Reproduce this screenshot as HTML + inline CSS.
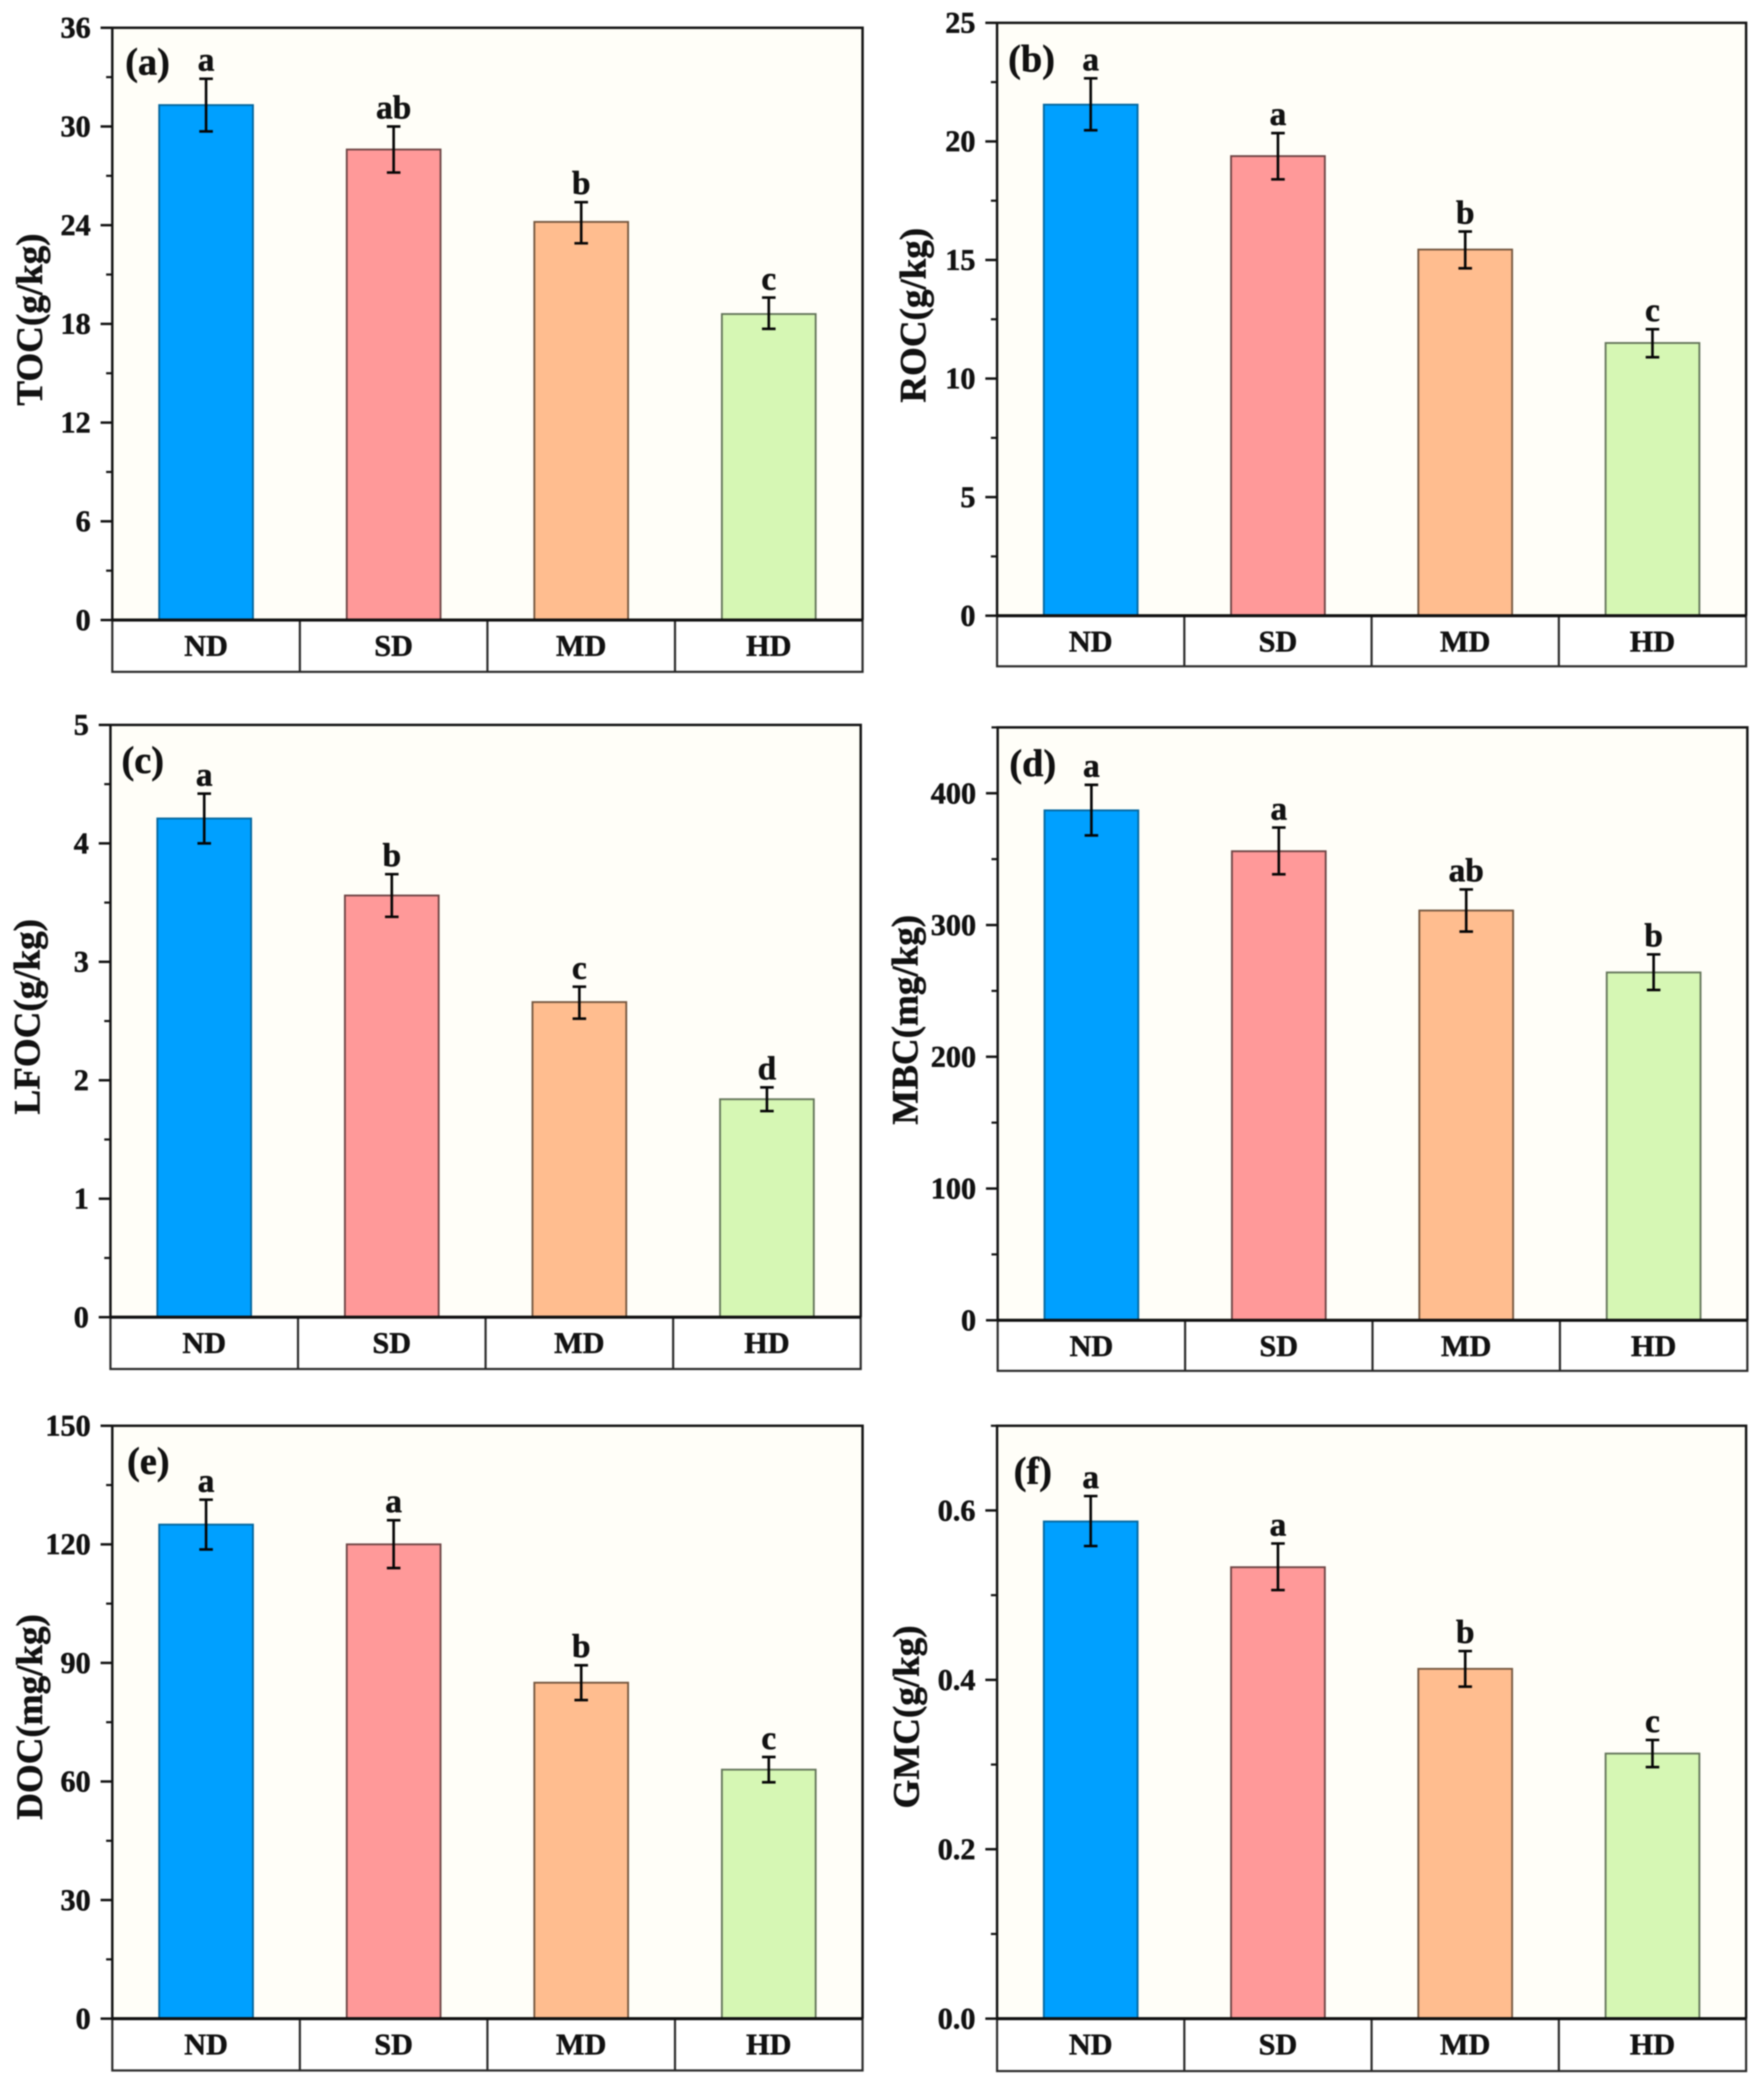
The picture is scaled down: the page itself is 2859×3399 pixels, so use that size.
<!DOCTYPE html>
<html lang="en">
<head>
<meta charset="utf-8">
<title>Soil carbon fractions by degradation level</title>
<style>
html,body{margin:0;padding:0;background:#fff;width:2859px;height:3399px;overflow:hidden}
svg{display:block;filter:blur(1px)}
text{font-family:"Liberation Serif",serif;font-weight:700;fill:#111;stroke:#111;stroke-width:0.8px}
</style>
</head>
<body>
<svg id="figure" xmlns="http://www.w3.org/2000/svg" width="2859" height="3399" viewBox="0 0 2859 3399"></svg>
<script>
// Shared category data
const categories = ['ND', 'SD', 'MD', 'HD'];

// (a) TOC
const tocMeans = [31.3, 28.6, 24.2, 18.6];
const tocUpper = [32.9, 30.0, 25.4, 19.6];
const tocLower = [29.7, 27.2, 22.9, 17.7];
const tocLetters = ['a', 'ab', 'b', 'c'];
const tocTicks = [0, 6, 12, 18, 24, 30, 36];
const tocTickLabels = ['0', '6', '12', '18', '24', '30', '36'];
const tocMinorTicks = [3, 9, 15, 21, 27, 33];

// (b) ROC
const rocMeans = [21.55, 19.38, 15.44, 11.5];
const rocUpper = [22.66, 20.35, 16.2, 12.08];
const rocLower = [20.47, 18.4, 14.65, 10.9];
const rocLetters = ['a', 'a', 'b', 'c'];
const rocTicks = [0, 5, 10, 15, 20, 25];
const rocTickLabels = ['0', '5', '10', '15', '20', '25'];
const rocMinorTicks = [2.5, 7.5, 12.5, 17.5, 22.5];

// (c) LFOC
const lfocMeans = [4.21, 3.56, 2.66, 1.84];
const lfocUpper = [4.42, 3.74, 2.79, 1.94];
const lfocLower = [4.0, 3.38, 2.52, 1.74];
const lfocLetters = ['a', 'b', 'c', 'd'];
const lfocTicks = [0, 1, 2, 3, 4, 5];
const lfocTickLabels = ['0', '1', '2', '3', '4', '5'];
const lfocMinorTicks = [0.5, 1.5, 2.5, 3.5, 4.5];

// (d) MBC
const mbcMeans = [387, 356, 311, 264];
const mbcUpper = [406.4, 374, 327, 277.7];
const mbcLower = [368, 338.5, 295, 250.7];
const mbcLetters = ['a', 'a', 'ab', 'b'];
const mbcTicks = [0, 100, 200, 300, 400];
const mbcTickLabels = ['0', '100', '200', '300', '400'];
const mbcMinorTicks = [50, 150, 250, 350, 450];

// (e) DOC
const docMeans = [125, 120, 85, 63];
const docUpper = [131.3, 126.1, 89.4, 66.2];
const docLower = [118.7, 114, 80.6, 59.8];
const docLetters = ['a', 'a', 'b', 'c'];
const docTicks = [0, 30, 60, 90, 120, 150];
const docTickLabels = ['0', '30', '60', '90', '120', '150'];
const docMinorTicks = [15, 45, 75, 105, 135];

// (f) GMC
const gmcMeans = [0.587, 0.533, 0.413, 0.313];
const gmcUpper = [0.617, 0.561, 0.434, 0.329];
const gmcLower = [0.558, 0.506, 0.392, 0.297];
const gmcLetters = ['a', 'a', 'b', 'c'];
const gmcTicks = [0, 0.2, 0.4, 0.6];
const gmcTickLabels = ['0.0', '0.2', '0.4', '0.6'];
const gmcMinorTicks = [0.1, 0.3, 0.5, 0.7];

// Fill and outline per category
const barFills = ['#00a0ff', '#ff9999', '#ffbd8f', '#d6f7b4'];
const barStrokes = ['#04679f', '#6e4545', '#75573f', '#64755a'];

const panels = [
  {id:'a', title:'TOC(g/kg)', yMax:36, means:tocMeans, upper:tocUpper, lower:tocLower, letters:tocLetters, ticks:tocTicks, labels:tocTickLabels, minor:tocMinorTicks,
   left:182, right:1398, top:45, zero:1005, bottom:1089, titleX:68, titleY:518, tagX:203, tagY:105},
  {id:'b', title:'ROC(g/kg)', yMax:25, means:rocMeans, upper:rocUpper, lower:rocLower, letters:rocLetters, ticks:rocTicks, labels:rocTickLabels, minor:rocMinorTicks,
   left:1616, right:2830, top:37, zero:998, bottom:1080, titleX:1500, titleY:511, tagX:1634, tagY:100},
  {id:'c', title:'LFOC(g/kg)', yMax:5, means:lfocMeans, upper:lfocUpper, lower:lfocLower, letters:lfocLetters, ticks:lfocTicks, labels:lfocTickLabels, minor:lfocMinorTicks,
   left:179, right:1395, top:1175, zero:2135, bottom:2219, titleX:64, titleY:1648, tagX:197, tagY:1237},
  {id:'d', title:'MBC(mg/kg)', yMax:450, means:mbcMeans, upper:mbcUpper, lower:mbcLower, letters:mbcLetters, ticks:mbcTicks, labels:mbcTickLabels, minor:mbcMinorTicks,
   left:1617, right:2832, top:1179, zero:2140, bottom:2222, titleX:1487, titleY:1653, tagX:1636, tagY:1242},
  {id:'e', title:'DOC(mg/kg)', yMax:150, means:docMeans, upper:docUpper, lower:docLower, letters:docLetters, ticks:docTicks, labels:docTickLabels, minor:docMinorTicks,
   left:182, right:1398, top:2311, zero:3272, bottom:3356, titleX:68, titleY:2783, tagX:206, tagY:2373},
  {id:'f', title:'GMC(g/kg)', yMax:0.7, means:gmcMeans, upper:gmcUpper, lower:gmcLower, letters:gmcLetters, ticks:gmcTicks, labels:gmcTickLabels, minor:gmcMinorTicks,
   left:1616, right:2830, top:2311, zero:3272, bottom:3357, titleX:1489, titleY:2783, tagX:1643, tagY:2389}
];

const NS = 'http://www.w3.org/2000/svg';
const root = document.getElementById('figure');

function make(parent, tag, attrs, content) {
  const node = document.createElementNS(NS, tag);
  for (const key in attrs) node.setAttribute(key, attrs[key]);
  if (content !== undefined) node.textContent = content;
  parent.appendChild(node);
  return node;
}

function drawPanel(p) {
  const yScale = v => p.zero - (v / p.yMax) * (p.zero - p.top);
  const bandWidth = (p.right - p.left) / categories.length;
  const xScale = i => p.left + (i + 0.5) * bandWidth;
  const barWidth = 152;

  const g = make(root, 'g', {});
  
  

  const bg = make(g, 'rect', {x:p.left, y:p.top, width:p.right - p.left, height:p.zero - p.top, fill:'#fffef8'});
  
  

  p.means.forEach((value, i) => {
    const cx = xScale(i);
    const barTop = yScale(value);
    const bar = make(g, 'rect', {x:cx - barWidth / 2, y:barTop, width:barWidth, height:p.zero - barTop,
      fill:barFills[i], stroke:barStrokes[i], 'stroke-width':3});
    
    

    const yUp = yScale(p.upper[i]);
    const yLow = yScale(p.lower[i]);
    const err = make(g, 'path', {d:'M' + (cx - 11) + ' ' + yUp + 'H' + (cx + 11) + 'M' + cx + ' ' + yUp + 'V' + yLow + 'M' + (cx - 11) + ' ' + yLow + 'H' + (cx + 11),
      fill:'none', stroke:'#050505', 'stroke-width':4.2});
    
    

    const sig = make(g, 'text', {x:cx, y:yUp - 13, 'font-size':54, 'text-anchor':'middle'}, p.letters[i]);
    
    

    const band = make(g, 'text', {x:cx, y:p.zero + 58, 'font-size':49, 'text-anchor':'middle'}, categories[i]);
    
    
  });

  const frame = make(g, 'path', {d:'M' + p.left + ' ' + p.zero + 'V' + p.top + 'H' + p.right + 'V' + p.zero,
    fill:'none', stroke:'#151515', 'stroke-width':4});
  
  

  let bandPath = 'M' + p.left + ' ' + p.zero + 'V' + p.bottom + 'H' + p.right + 'V' + p.zero;
  for (let i = 1; i < categories.length; i++) {
    bandPath += 'M' + (p.left + i * bandWidth) + ' ' + p.zero + 'V' + p.bottom;
  }
  const box = make(g, 'path', {d:bandPath, fill:'none', stroke:'#2a2a2a', 'stroke-width':3.5});
  
  

  const axis = make(g, 'line', {x1:p.left, x2:p.right, y1:p.zero, y2:p.zero, stroke:'#111', 'stroke-width':5});
  
  

  p.ticks.forEach((value, i) => {
    const y = yScale(value);
    const tick = make(g, 'line', {x1:p.left - 19, x2:p.left, y1:y, y2:y, stroke:'#111', 'stroke-width':4});
    
    

    const label = make(g, 'text', {x:p.left - 35, y:y + 16, 'font-size':49, 'text-anchor':'end'}, p.labels[i]);
    
    
  });

  p.minor.forEach(value => {
    const y = yScale(value);
    const tick = make(g, 'line', {x1:p.left - 10, x2:p.left, y1:y, y2:y, stroke:'#111', 'stroke-width':3.5});
    
    
  });

  const title = make(g, 'text', {x:p.titleX, y:p.titleY, 'font-size':60, 'text-anchor':'middle',
    transform:'rotate(-90 ' + p.titleX + ' ' + p.titleY + ')'}, p.title);
  
  

  const tag = make(g, 'text', {x:p.tagX, y:p.tagY + 16, 'font-size':62}, '(' + p.id + ')');
  
  
}

panels.forEach(drawPanel);
</script>
</body>
</html>
